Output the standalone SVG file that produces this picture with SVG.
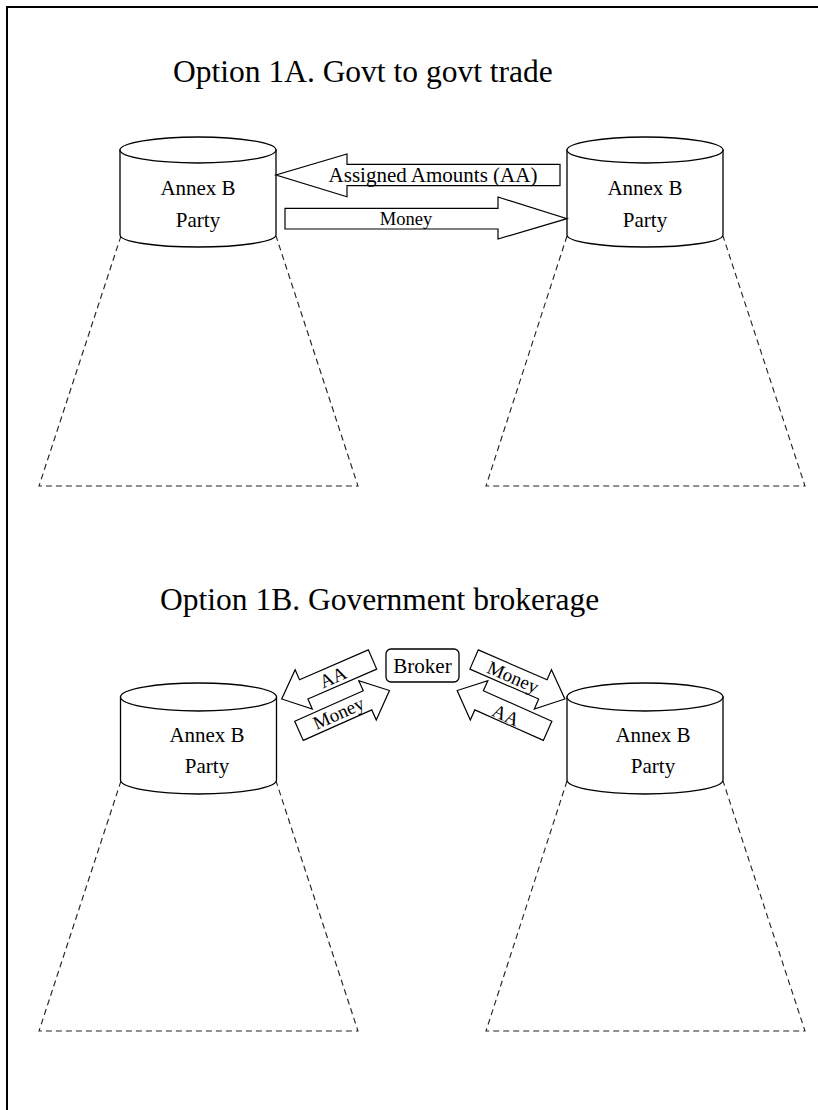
<svg xmlns="http://www.w3.org/2000/svg" width="818" height="1110" viewBox="0 0 818 1110">
<defs>
<style>
.frame{fill:none;stroke:#000;stroke-width:2}
.cyl{fill:#fff;stroke:#000;stroke-width:1.3}
.cone{fill:none;stroke:#222;stroke-width:1.1;stroke-dasharray:6 4}
.arr{fill:#fff;stroke:#000;stroke-width:1.2;stroke-linejoin:miter}
.box{fill:#fff;stroke:#000;stroke-width:1.3}
text{font-family:"Liberation Serif","Times New Roman",serif;fill:#000}
.title{font-size:31.5px}
.lbl{font-size:21px;text-anchor:middle}
.albl{font-size:19px;text-anchor:middle}
</style>
<path id="barrow" d="M0,-10.5 L75,-10.5 L75,-21.5 L99,0 L75,21.5 L75,10.5 L0,10.5 Z"/>
</defs>
<rect width="818" height="1110" fill="#fff"/>
<path class="frame" d="M7,1112 L7,7 L820,7"/>

<g id="title-1a"><text class="title" x="173" y="82">Option 1A. Govt to govt trade</text></g>
<g id="title-1b"><text class="title" x="160" y="610">Option 1B. Government brokerage</text></g>

<g id="party-1a-left">
<path class="cone" d="M121,236 L39,486 L358,486 L276,236"/>
<path class="cyl" d="M120,150 L120,235 A78,12 0 0 0 276,235 L276,150 Z"/>
<ellipse class="cyl" cx="198" cy="150" rx="78" ry="13"/>
<text class="lbl" x="198" y="195">Annex B</text>
<text class="lbl" x="198" y="227">Party</text>
</g>

<g id="party-1a-right">
<path class="cone" d="M567,236 L486,486 L805,486 L723,236"/>
<path class="cyl" d="M567,150 L567,235 A78,12 0 0 0 723,235 L723,150 Z"/>
<ellipse class="cyl" cx="645" cy="150" rx="78" ry="13"/>
<text class="lbl" x="645" y="195">Annex B</text>
<text class="lbl" x="645" y="227">Party</text>
</g>

<g id="party-1b-left">
<path class="cone" d="M121,781 L39,1031 L358,1031 L276,781"/>
<path class="cyl" d="M120.5,697 L120.5,780 A78,14 0 0 0 276.5,780 L276.5,697 Z"/>
<ellipse class="cyl" cx="198.5" cy="697" rx="78" ry="14"/>
<text class="lbl" x="207" y="742">Annex B</text>
<text class="lbl" x="207" y="773">Party</text>
</g>

<g id="party-1b-right">
<path class="cone" d="M567,781 L486,1031 L805,1031 L723,781"/>
<path class="cyl" d="M567,697 L567,780 A78,14 0 0 0 723,780 L723,697 Z"/>
<ellipse class="cyl" cx="645" cy="697" rx="78" ry="14"/>
<text class="lbl" x="653" y="742">Annex B</text>
<text class="lbl" x="653" y="773">Party</text>
</g>

<g id="broker">
<rect class="box" x="386" y="649" width="73" height="33" rx="5"/>
<text class="lbl" x="422.5" y="673">Broker</text>
</g>

<g id="connectors">
<g id="arrow-1a-aa">
<path class="arr" d="M560,164.3 L347,164.3 L347,154 L276,175 L347,196.7 L347,185.7 L560,185.7 Z"/>
<text class="lbl" x="433" y="182">Assigned Amounts (AA)</text>
</g>
<g id="arrow-1a-money">
<path class="arr" d="M285,208.3 L498,208.3 L498,197 L567,218.7 L498,239 L498,229 L285,229 Z"/>
<text class="albl" style="font-size:18.5px" x="406" y="224.5">Money</text>
</g>
<g id="arrow-1b-aa-left">
<use href="#barrow" class="arr" transform="translate(372.5,659.5) rotate(156.5)"/>
<text class="albl" transform="translate(333,677) rotate(-23.5)" x="0" y="6.5">AA</text>
</g>
<g id="arrow-1b-money-left">
<use href="#barrow" class="arr" transform="translate(299,730.8) rotate(-24)"/>
<text class="albl" transform="translate(338.5,713) rotate(-24)" x="0" y="6.5">Money</text>
</g>
<g id="arrow-1b-money-right">
<use href="#barrow" class="arr" transform="translate(474.1,659.5) rotate(23.5)"/>
<text class="albl" transform="translate(513,677) rotate(23.5)" x="0" y="6.5">Money</text>
</g>
<g id="arrow-1b-aa-right">
<use href="#barrow" class="arr" transform="translate(547.6,730.8) rotate(204)"/>
<text class="albl" transform="translate(506,715) rotate(24)" x="0" y="6.5">AA</text>
</g>
</g>
</svg>
